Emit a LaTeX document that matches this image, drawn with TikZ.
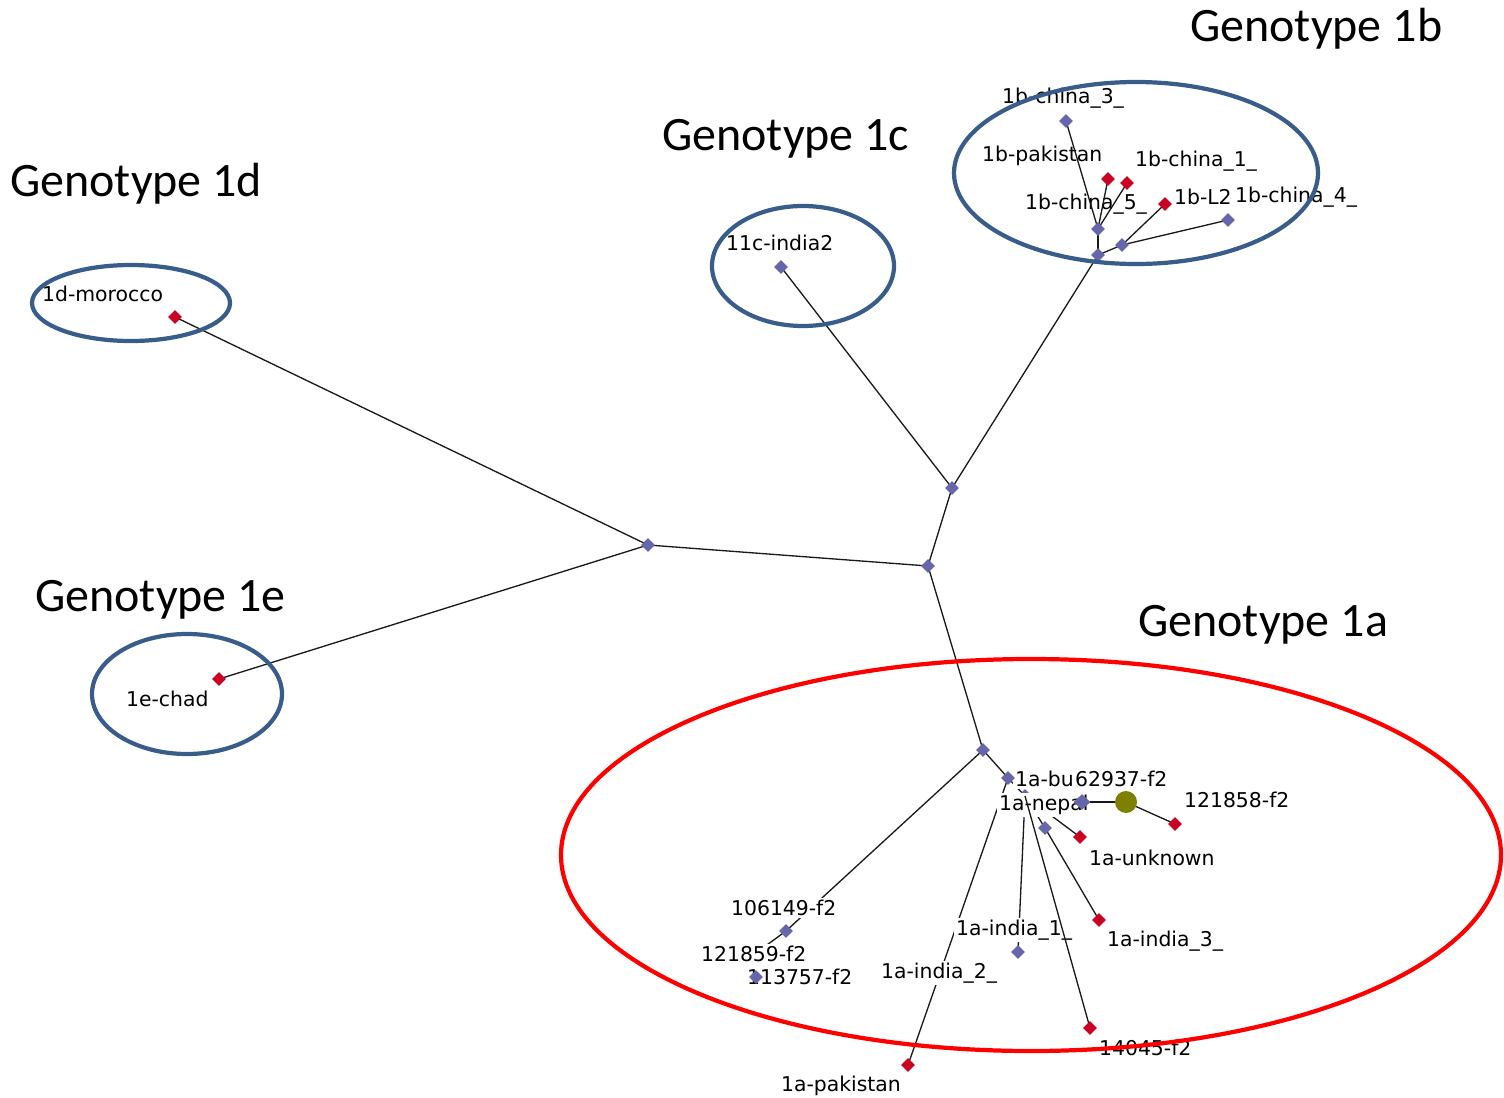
\documentclass[tikz,border=0pt]{standalone}
\usepackage{fontspec}
\setmainfont{Liberation Sans}
\newfontfamily\titlefont{Carlito}
\newfontfamily\lblfont{DejaVu Sans}
\usetikzlibrary{shapes.geometric}
\definecolor{nodeblue}{HTML}{6666AA}
\definecolor{nodered}{HTML}{CC0022}
\definecolor{nodeolive}{HTML}{808000}
\definecolor{ellblue}{HTML}{385D8A}
\begin{document}
\begin{tikzpicture}[x=0.02cm,y=-0.02cm,
  edge/.style={draw=black!90,line width=0.75pt},
  bmark/.style={diamond,fill=nodeblue,inner sep=0pt,minimum width=0.28cm,minimum height=0.28cm},
  bigmark/.style={bmark,minimum width=0.34cm,minimum height=0.32cm},
  rmark/.style={diamond,fill=nodered,inner sep=0pt,minimum width=0.28cm,minimum height=0.28cm},
  omark/.style={circle,fill=nodeolive,inner sep=0pt,minimum size=0.44cm},
  lbl/.style={font=\lblfont\fontsize{11.6}{13}\selectfont,anchor=west,inner sep=1pt},
  olbl/.style={lbl,fill=white},
  geno/.style={font=\titlefont\fontsize{27.3}{31}\selectfont,anchor=base west,inner sep=0pt},
  grpb/.style={draw=ellblue,line width=2.4pt},
  grpr/.style={draw=red,line width=2.4pt}]
\useasboundingbox (0,0) rectangle (1504,1098);
% coordinates
\coordinate (A) at (648,545);
\coordinate (B) at (928,566);
\coordinate (C) at (952,488);
\coordinate (D) at (983,750);
\coordinate (mor) at (175,317);
\coordinate (chad) at (219,679);
\coordinate (c1) at (781,267);
\coordinate (b0) at (1098,255);
\coordinate (b1) at (1098,229);
\coordinate (b2) at (1122,245);
\coordinate (bch3) at (1066,121);
\coordinate (bpak) at (1108,179);
\coordinate (bch1) at (1127,183);
\coordinate (bL2) at (1165,204);
\coordinate (bch4) at (1228,220);
\coordinate (bu) at (1008,778);
\coordinate (H) at (1025,796);
\coordinate (n62) at (1082,802);
\coordinate (olive) at (1126,802);
\coordinate (r121858) at (1175,824);
\coordinate (unk) at (1080,837);
\coordinate (n1045) at (1045,828);
\coordinate (ind3) at (1099,920);
\coordinate (ind1) at (1018,952);
\coordinate (n14045) at (1090,1028);
\coordinate (pak) at (908,1065);
\coordinate (n106) at (786,931);
\coordinate (n113) at (756,977);
\coordinate (x121) at (760,950);
% 1b labels (under the edges)
\node[lbl] (l-bch3) at (1000,98) {1b-china\_3\_};
\node[lbl] (l-bpak) at (980,156) {1b-pakistan};
\node[lbl] (l-bch1) at (1133,161) {1b-china\_1\_};
\node[lbl] (l-bch5) at (1023,204) {1b-china\_5\_};
\node[lbl] (l-bL2) at (1172,197) {1b-L2!};
\node[lbl,fill=white] (l-bch4) at (1233,197) {1b-china\_4\_};
% edges
\draw[edge] (A) -- (mor);
\draw[edge] (A) -- (chad);
\draw[edge] (A) -- (B);
\draw[edge] (B) -- (C);
\draw[edge] (C) -- (c1);
\draw[edge] (C) -- (b0);
\draw[edge] (B) -- (D);
\draw[edge] (b0) -- (b1);
\draw[edge] (b0) -- (b2);
\draw[edge] (b1) -- (bch3);
\draw[edge] (b1) -- (bpak);
\draw[edge] (b1) -- (bch1);
\draw[edge] (b2) -- (bL2);
\draw[edge] (b2) -- (bch4);
\draw[edge] (D) -- (bu);
\draw[edge] (bu) -- (H);
\draw[edge] (bu) -- (pak);
\draw[edge] (H) -- (ind1);
\draw[edge] (H) -- (n1045);
\draw[edge] (n1045) -- (ind3);
\draw[edge] (H) -- (unk);
\draw[edge] (n62) -- (olive);
\draw[edge] (olive) -- (r121858);
\draw[edge] (D) -- (n106);
\draw[edge] (n106) -- (x121);
\node[bmark] (m-H) at (H) {};
% labels
\node[lbl] (l-mor) at (40,294) {1d-morocco};
\node[lbl] (l-chad) at (124,699) {1e-chad};
\node[lbl] (l-c1) at (724,243) {11c-india2};
\node[olbl] (l-bu) at (1013,779) {1a-bu};
\node[olbl] (l-62937) at (1073,779) {62937-f2};
\node[olbl] (l-nepal) at (997,805) {1a-nepal};
\node[lbl] (l-121858) at (1182,800) {121858-f2};
\node[lbl] (l-unk) at (1087,858) {1a-unknown};
\node[olbl] (l-106) at (729,908) {106149-f2};
\node[olbl] (l-121859) at (699,954) {121859-f2};
\node[lbl] (l-113) at (745,977) {113757-f2};
\node[olbl] (l-ind1) at (954,930) {1a-india\_1\_};
\node[lbl] (l-ind3) at (1105,941) {1a-india\_3\_};
\node[olbl] (l-ind2) at (879,973) {1a-india\_2\_};
\node[lbl] (l-14045) at (1097,1048) {14045-f2};
\node[lbl] (l-pak) at (779,1086) {1a-pakistan};
\draw[edge] (H) -- (n14045);
% markers
\node[bmark] (m-A) at (A) {};
\node[bmark] (m-B) at (B) {};
\node[bmark] (m-C) at (C) {};
\node[bmark] (m-D) at (D) {};
\node[rmark] (m-mor) at (mor) {};
\node[rmark] (m-chad) at (chad) {};
\node[bmark] (m-c1) at (c1) {};
\node[bmark] (m-b0) at (b0) {};
\node[bmark] (m-b1) at (b1) {};
\node[bmark] (m-b2) at (b2) {};
\node[bmark] (m-bch3) at (bch3) {};
\node[rmark] (m-bpak) at (bpak) {};
\node[rmark] (m-bch1) at (bch1) {};
\node[rmark] (m-bL2) at (bL2) {};
\node[bmark] (m-bch4) at (bch4) {};
\node[bmark] (m-bu) at (bu) {};
\node[bigmark] (m-n62) at (n62) {};
\node[omark] (m-olive) at (olive) {};
\node[rmark] (m-r121858) at (r121858) {};
\node[rmark] (m-unk) at (unk) {};
\node[bmark] (m-n1045) at (n1045) {};
\node[rmark] (m-ind3) at (ind3) {};
\node[bmark] (m-ind1) at (ind1) {};
\node[rmark] (m-n14045) at (n14045) {};
\node[rmark] (m-pak) at (pak) {};
\node[bmark] (m-n106) at (n106) {};
\node[bmark] (m-n113) at (n113) {};
% group ellipses
\draw[grpb] (131,303) ellipse [x radius=99, y radius=38];
\draw[grpb] (187,694) ellipse [x radius=95, y radius=60];
\draw[grpb] (803,266) ellipse [x radius=91, y radius=60];
\draw[grpb] (1136,173) ellipse [x radius=182, y radius=91];
\draw[grpr] (1031,855) ellipse [x radius=470, y radius=196];
% titles
\node[geno] (g1b) at (1190,42) {Genotype 1b};
\node[geno] (g1c) at (662,151) {Genotype 1c};
\node[geno] (g1d) at (10,197) {Genotype 1d};
\node[geno] (g1e) at (35,611) {Genotype 1e};
\node[geno] (g1a) at (1138,636) {Genotype 1a};
\end{tikzpicture}
\end{document}
